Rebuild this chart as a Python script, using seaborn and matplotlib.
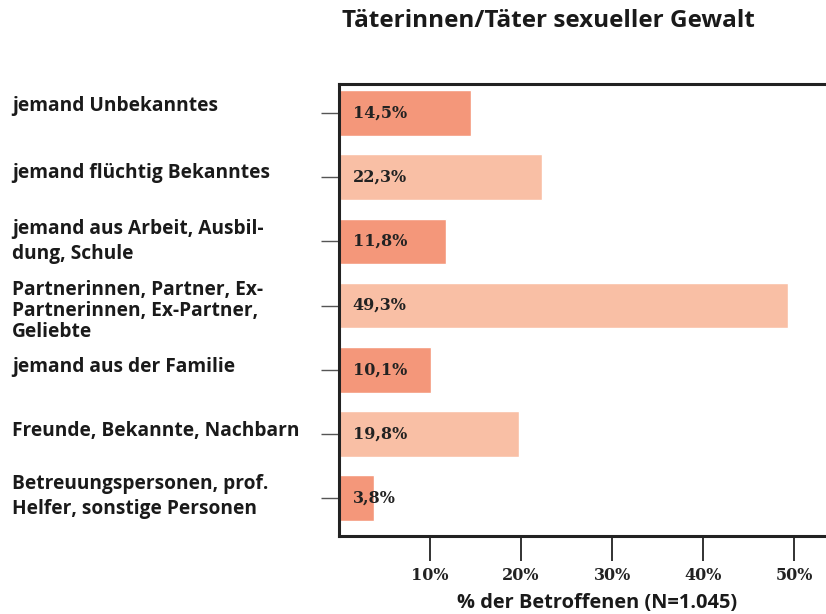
import matplotlib
matplotlib.use("Agg")
import matplotlib.pyplot as plt
import matplotlib.transforms as mtransforms
import seaborn as sns
import pandas as pd

categories = [
    "jemand Unbekanntes",
    "jemand flüchtig Bekanntes",
    "jemand aus Arbeit, Ausbil-\ndung, Schule",
    "Partnerinnen, Partner, Ex-\nPartnerinnen, Ex-Partner,\nGeliebte",
    "jemand aus der Familie",
    "Freunde, Bekannte, Nachbarn",
    "Betreuungspersonen, prof.\nHelfer, sonstige Personen",
]
values = [14.5, 22.3, 11.8, 49.3, 10.1, 19.8, 3.8]
value_labels = ["14,5%", "22,3%", "11,8%", "49,3%", "10,1%", "19,8%", "3,8%"]
xticks = [10, 20, 30, 40, 50]
xtick_labels = ["10%", "20%", "30%", "40%", "50%"]
title = "Täterinnen/Täter sexueller Gewalt"
xlabel = "% der Betroffenen (N=1.045)"

# layout tweaks for the category labels (vertical nudge, line spacing)
label_nudge = [-0.10, -0.06, 0.0, 0.09, -0.04, -0.04, -0.02]
label_spacing = [1.0, 1.0, 1.3, 1.08, 1.0, 1.0, 1.35]

dark = "#F4977A"
light = "#F9BFA5"
palette = [dark if i % 2 == 0 else light for i in range(len(categories))]

sns.set_style("white")
plt.rcParams["font.family"] = ["Open Sans", "DejaVu Sans"]

df = pd.DataFrame({"cat": categories, "val": values})

fig = plt.figure(figsize=(8.26, 6.14), dpi=100)
ax = fig.add_axes([339 / 826, 1 - 536 / 614, 1 - 339 / 826, (536 - 84) / 614])

sns.barplot(data=df, x="val", y="cat", hue="cat", palette=palette,
            legend=False, ax=ax, width=0.71, saturation=1, orient="h")

ax.set_xlim(0, 53.5)
ax.set_ylim(6.59, -0.45)

for sp in ["left", "top", "bottom"]:
    ax.spines[sp].set_visible(True)
    ax.spines[sp].set_linewidth(2.2)
    ax.spines[sp].set_color("#222222")
ax.spines["right"].set_visible(False)

ax.set_xticks(xticks)
ax.set_xticklabels(xtick_labels, family="DejaVu Serif", fontweight="bold",
                   fontsize=11.5, color="#222222")
ax.tick_params(axis="x", direction="out", length=18, width=1.3, color="#222222",
               pad=4, bottom=True)
ax.set_yticks(range(len(categories)))
ax.set_yticklabels([""] * len(categories))
ax.tick_params(axis="y", direction="out", length=13, width=1.0, color="#555555",
               left=True)
ax.set_xlabel("")
ax.set_ylabel("")

trans = mtransforms.blended_transform_factory(fig.transFigure, ax.transData)
for i, (cat, lab) in enumerate(zip(categories, value_labels)):
    ax.text(12 / 826, i + label_nudge[i], cat, transform=trans, ha="left",
            va="center", fontsize=13.8, fontweight="bold", color="#1a1a1a",
            linespacing=label_spacing[i])
    ax.text(1.5, i, lab, ha="left", va="center", family="DejaVu Serif",
            fontweight="bold", fontsize=11.5, color="#222222")

fig.text(548 / 826, 1 - 21 / 614, title, ha="center", va="center",
         fontsize=17.5, fontweight="bold", color="#1a1a1a")
fig.text(597 / 826, 1 - 603 / 614, xlabel, ha="center", va="center",
         fontsize=14.4, fontweight="bold", color="#1a1a1a")

fig.savefig("out.png", dpi=100)
